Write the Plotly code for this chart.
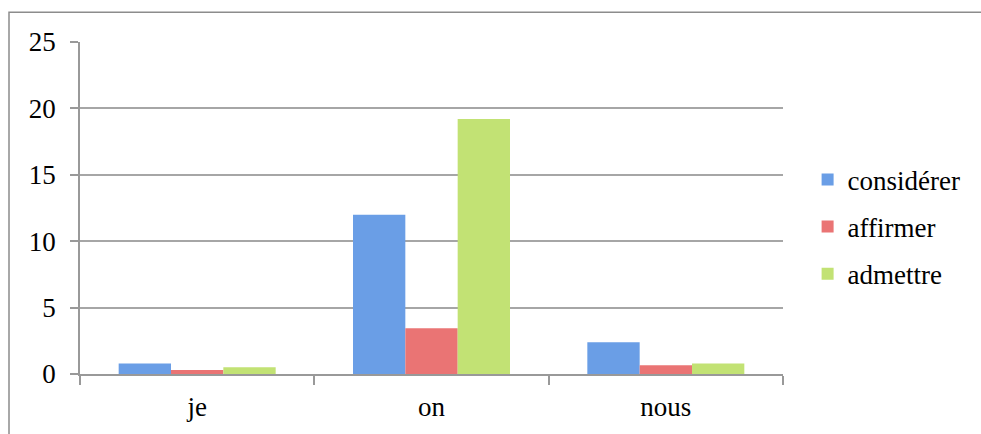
import plotly.graph_objects as go

categories = ["je", "on", "nous"]
series_names = ["considérer", "affirmer", "admettre"]
considerer = [0.8, 12.0, 2.4]
affirmer = [0.3, 3.45, 0.65]
admettre = [0.5, 19.2, 0.8]
y_ticks = [0, 5, 10, 15, 20, 25]

colors = ["#6a9ee6", "#ea7474", "#c2e274"]
values = [considerer, affirmer, admettre]

FONT = "Liberation Serif, DejaVu Serif, serif"

fig = go.Figure()
for i, (name, vals) in enumerate(zip(series_names, values)):
    fig.add_trace(go.Bar(
        x=categories, y=vals, name=name,
        marker=dict(color=colors[i], line=dict(width=0)),
        legendgroup=name,
    ))

fig.update_layout(
    width=981, height=434,
    margin=dict(l=80, r=198, t=42, b=58),
    paper_bgcolor="white", plot_bgcolor="white",
    barmode="group", bargap=0.33, bargroupgap=0,
    font=dict(family=FONT, size=27, color="black"),
    showlegend=True,
    legend=dict(
        x=1.035, y=(376 - 228) / 334, xanchor="left", yanchor="middle",
        font=dict(family=FONT, size=27),
        traceorder="grouped", tracegroupgap=9,
        itemwidth=30,
        bgcolor="rgba(0,0,0,0)",
    ),
    xaxis=dict(
        showline=True, linecolor="#999999", linewidth=1.5,
        ticks="outside", tickson="boundaries", ticklen=9,
        tickcolor="#999999", tickwidth=1.5,
        showgrid=False, ticklabelstandoff=8,
    ),
    yaxis=dict(
        range=[0, 25], tickvals=y_ticks,
        showline=True, linecolor="#999999", linewidth=1.5,
        ticks="outside", ticklen=8, tickcolor="#999999", tickwidth=1.5,
        showgrid=True, gridcolor="#a6a6a6", gridwidth=1.5,
        zeroline=False, ticklabelstandoff=9,
    ),
    shapes=[dict(
        type="rect", xref="paper", yref="paper",
        x0=(9 - 80) / 703, x1=(1000 - 80) / 703,
        y0=(376 - 450) / 334, y1=(376 - 12) / 334,
        line=dict(color="#8c8c8c", width=1.5), fillcolor="rgba(0,0,0,0)",
        layer="below",
    )],
)

fig.write_html("out.html", config={"displayModeBar": False})
with open("out.html", "r", encoding="utf-8") as f:
    html = f.read()
html = html.replace("<body>", '<body style="margin:0;padding:0;">', 1)
with open("out.html", "w", encoding="utf-8") as f:
    f.write(html)
